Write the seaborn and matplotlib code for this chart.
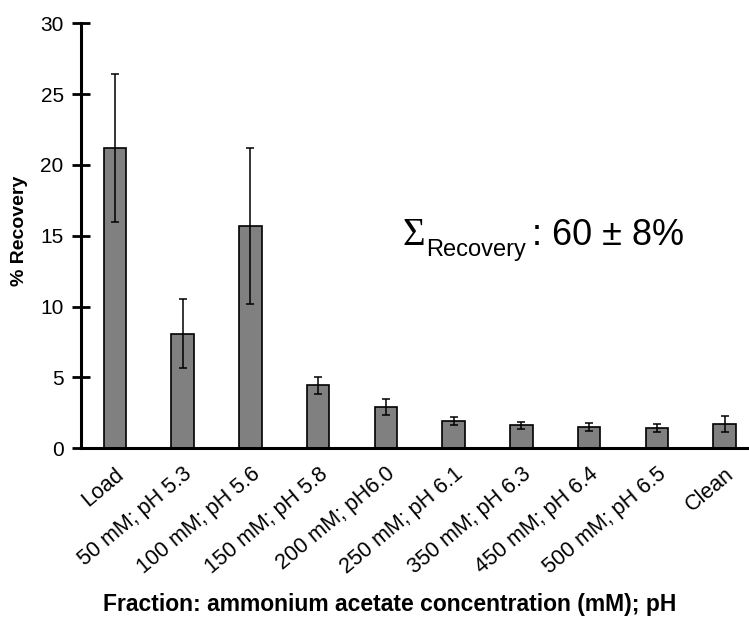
import matplotlib
matplotlib.use("Agg")
import matplotlib.pyplot as plt
import seaborn as sns
import pandas as pd
import numpy as np

categories = ["Load", "50 mM; pH 5.3", "100 mM; pH 5.6", "150 mM; pH 5.8", "200 mM; pH6.0",
              "250 mM; pH 6.1", "350 mM; pH 6.3", "450 mM; pH 6.4", "500 mM; pH 6.5", "Clean"]
recovery = [21.2, 8.1, 15.7, 4.45, 2.9, 1.9, 1.62, 1.5, 1.42, 1.72]
errors = [5.25, 2.45, 5.5, 0.6, 0.57, 0.29, 0.27, 0.3, 0.28, 0.58]
yticks = [0, 5, 10, 15, 20, 25, 30]

sns.set_style("white")
plt.rcParams['font.family'] = ['Liberation Sans', 'DejaVu Sans']
plt.rcParams.update({"text.color": "black", "axes.labelcolor": "black",
                     "xtick.color": "black", "ytick.color": "black"})

df = pd.DataFrame({"cat": categories, "val": recovery})

fig = plt.figure(figsize=(7.49, 6.19), dpi=100)
ax = fig.add_axes([81/749, (619-448.3)/619, 1 - 81/749, 425/619])

sns.barplot(data=df, x="cat", y="val", color="#808080", width=0.33,
            edgecolor="black", linewidth=1.2, saturation=1, ax=ax, errorbar=None)
ax.errorbar(np.arange(len(categories)), recovery, yerr=errors, fmt="none",
            ecolor="black", elinewidth=1.1, capsize=3.2, capthick=1.1)

ax.set_xlim(-0.5, 9.36)
ax.set_ylim(0, 30)
ax.set_yticks(yticks)
ax.set_yticklabels([str(t) for t in yticks], fontsize=15)
ax.tick_params(axis="y", left=True, direction="inout", length=13, width=2, pad=6)
ax.tick_params(axis="x", bottom=False, length=0, pad=11)
ax.set_xticks(range(len(categories)))
ax.set_xticklabels(categories, rotation=40, ha="right", rotation_mode="anchor", fontsize=15.5)

for s in ["top", "right"]:
    ax.spines[s].set_visible(False)
for s in ["left", "bottom"]:
    ax.spines[s].set_linewidth(2.2)
    ax.spines[s].set_color("black")

ax.set_xlabel("Fraction: ammonium acetate concentration (mM); pH", fontsize=16.5,
              fontweight="bold", labelpad=0)
ax.xaxis.set_label_coords(0.4626, -0.34)
ax.set_ylabel("% Recovery", fontsize=14, fontweight="bold")
ax.yaxis.set_label_coords(-0.08, 0.511)

fig.text(402/749, (619-245)/619, "Σ", fontsize=28, family=["Liberation Serif"], va="baseline")
fig.text(426/749, (619-256)/619, "Recovery", fontsize=17, va="baseline")
fig.text(532/749, (619-245)/619, ": 60 ± 8%", fontsize=26, va="baseline")

fig.savefig("out.png", dpi=100)
